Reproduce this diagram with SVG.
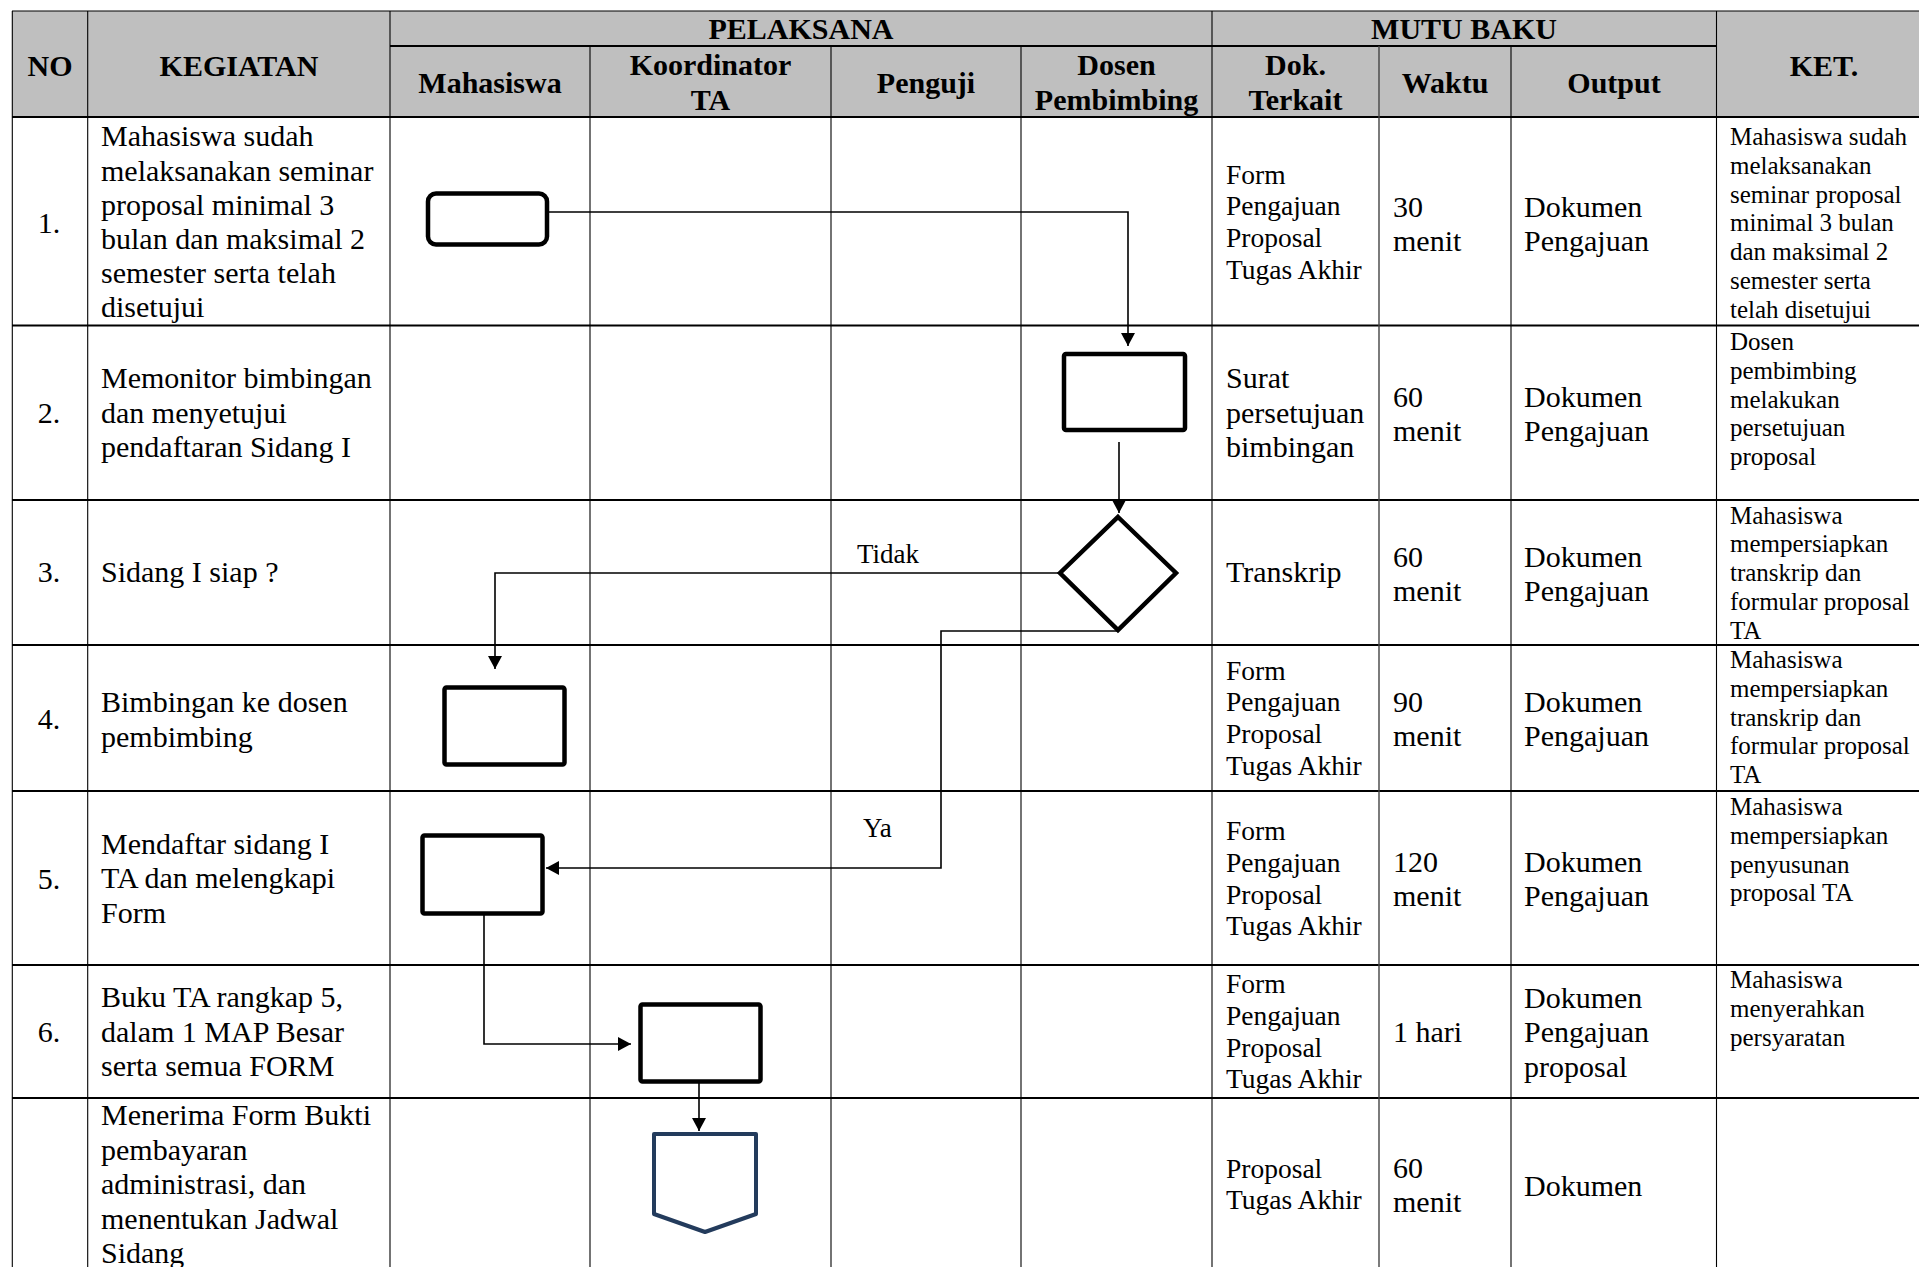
<svg xmlns="http://www.w3.org/2000/svg" width="1919" height="1267" viewBox="0 0 1919 1267">
<defs>
<style>
text{font-family:"Liberation Serif","Times New Roman",serif;fill:#000}
.h{font-weight:bold;font-size:30px;text-anchor:middle}
.n{font-size:30px;text-anchor:middle}
.b{font-size:30px}
.d{font-size:27.5px}
.k{font-size:25px}
.l{font-size:27px}
.row{stroke:#000;stroke-width:2.2}
.col{stroke:#000;stroke-width:1.1}
.node{fill:#fff;stroke:#000;stroke-width:4.5}
.conn{fill:none;stroke:#000;stroke-width:1.6}
</style>
<marker id="arr" markerUnits="userSpaceOnUse" markerWidth="14" markerHeight="14" refX="13" refY="7" orient="auto">
<path d="M0,0 L13,7 L0,14 z" fill="#000"/>
</marker>
</defs>
<rect x="0" y="0" width="1919" height="1267" fill="#fff"/>
<g id="table">
<rect x="12" y="11" width="1920" height="106" fill="#bfbfbf"/>
<line class="col" x1="12" y1="11" x2="1932" y2="11"/>
<line class="row" x1="390" y1="46" x2="1717" y2="46" style="stroke-width:1.8"/>
<line class="row" x1="12" y1="117" x2="1932" y2="117"/>
<line class="row" x1="12" y1="325.5" x2="1932" y2="325.5"/>
<line class="row" x1="12" y1="500" x2="1932" y2="500"/>
<line class="row" x1="12" y1="645" x2="1932" y2="645"/>
<line class="row" x1="12" y1="791" x2="1932" y2="791"/>
<line class="row" x1="12" y1="965" x2="1932" y2="965"/>
<line class="row" x1="12" y1="1098" x2="1932" y2="1098"/>
<line class="col" x1="12.3" y1="11" x2="12.3" y2="1267"/>
<line class="col" x1="87.7" y1="11" x2="87.7" y2="1267"/>
<line class="col" x1="390" y1="11" x2="390" y2="1267"/>
<line class="col" x1="590" y1="46" x2="590" y2="1267"/>
<line class="col" x1="831" y1="46" x2="831" y2="1267"/>
<line class="col" x1="1021" y1="46" x2="1021" y2="1267"/>
<line class="col" x1="1212" y1="11" x2="1212" y2="1267"/>
<line class="col" x1="1379" y1="46" x2="1379" y2="1267" style="stroke:#444;stroke-width:1.4"/>
<line class="col" x1="1511" y1="46" x2="1511" y2="1267"/>
<line class="col" x1="1716.5" y1="11" x2="1716.5" y2="1267"/>
</g>
<g id="header">
<text class="h" x="801" y="39">PELAKSANA</text>
<text class="h" x="1464" y="39">MUTU BAKU</text>
<text class="h" x="50" y="76">NO</text>
<text class="h" x="239" y="76">KEGIATAN</text>
<text class="h" x="1824" y="76">KET.</text>
<text class="h" x="490" y="93">Mahasiswa</text>
<text class="h" x="710.5" y="75">Koordinator</text>
<text class="h" x="710.5" y="110">TA</text>
<text class="h" x="926" y="93">Penguji</text>
<text class="h" x="1116.5" y="75">Dosen</text>
<text class="h" x="1116.5" y="110">Pembimbing</text>
<text class="h" x="1295.5" y="75">Dok.</text>
<text class="h" x="1295.5" y="110">Terkait</text>
<text class="h" x="1445" y="93">Waktu</text>
<text class="h" x="1614" y="93">Output</text>
</g>
<g id="row1">
<text class="n" x="49" y="233">1.</text>
<text class="b"><tspan x="101" y="146">Mahasiswa sudah</tspan><tspan x="101" y="180.5">melaksanakan seminar</tspan><tspan x="101" y="214.5">proposal minimal 3</tspan><tspan x="101" y="248.5">bulan dan maksimal 2</tspan><tspan x="101" y="283">semester serta telah</tspan><tspan x="101" y="317">disetujui</tspan></text>
<text class="d"><tspan x="1226" y="183.5">Form</tspan><tspan x="1226" y="215">Pengajuan</tspan><tspan x="1226" y="246.5">Proposal</tspan><tspan x="1226" y="278.5">Tugas Akhir</tspan></text>
<text class="b"><tspan x="1393" y="216.5">30</tspan><tspan x="1393" y="251">menit</tspan></text>
<text class="b"><tspan x="1524" y="216.5">Dokumen</tspan><tspan x="1524" y="251">Pengajuan</tspan></text>
<text class="k"><tspan x="1730" y="145">Mahasiswa sudah</tspan><tspan x="1730" y="173.8">melaksanakan</tspan><tspan x="1730" y="202.6">seminar proposal</tspan><tspan x="1730" y="231.4">minimal 3 bulan</tspan><tspan x="1730" y="260.2">dan maksimal 2</tspan><tspan x="1730" y="289">semester serta</tspan><tspan x="1730" y="317.8">telah disetujui</tspan></text>
</g>
<g id="row2">
<text class="n" x="49" y="423">2.</text>
<text class="b"><tspan x="101" y="388">Memonitor bimbingan</tspan><tspan x="101" y="422.5">dan menyetujui</tspan><tspan x="101" y="457">pendaftaran Sidang I</tspan></text>
<text class="b"><tspan x="1226" y="388">Surat</tspan><tspan x="1226" y="422.5">persetujuan</tspan><tspan x="1226" y="457">bimbingan</tspan></text>
<text class="b"><tspan x="1393" y="406.5">60</tspan><tspan x="1393" y="441">menit</tspan></text>
<text class="b"><tspan x="1524" y="406.5">Dokumen</tspan><tspan x="1524" y="441">Pengajuan</tspan></text>
<text class="k"><tspan x="1730" y="350">Dosen</tspan><tspan x="1730" y="378.8">pembimbing</tspan><tspan x="1730" y="407.6">melakukan</tspan><tspan x="1730" y="436.4">persetujuan</tspan><tspan x="1730" y="465.2">proposal</tspan></text>
</g>
<g id="row3">
<text class="n" x="49" y="582">3.</text>
<text class="b" x="101" y="582">Sidang I siap ?</text>
<text class="b" x="1226" y="582">Transkrip</text>
<text class="b"><tspan x="1393" y="566.5">60</tspan><tspan x="1393" y="601">menit</tspan></text>
<text class="b"><tspan x="1524" y="566.5">Dokumen</tspan><tspan x="1524" y="601">Pengajuan</tspan></text>
<text class="k"><tspan x="1730" y="523.5">Mahasiswa</tspan><tspan x="1730" y="552.3">mempersiapkan</tspan><tspan x="1730" y="581.1">transkrip dan</tspan><tspan x="1730" y="609.9">formular proposal</tspan><tspan x="1730" y="638.7">TA</tspan></text>
</g>
<g id="row4">
<text class="n" x="49" y="729">4.</text>
<text class="b"><tspan x="101" y="712">Bimbingan ke dosen</tspan><tspan x="101" y="746.5">pembimbing</tspan></text>
<text class="d"><tspan x="1226" y="679.5">Form</tspan><tspan x="1226" y="711.3">Pengajuan</tspan><tspan x="1226" y="743.1">Proposal</tspan><tspan x="1226" y="774.9">Tugas Akhir</tspan></text>
<text class="b"><tspan x="1393" y="711.5">90</tspan><tspan x="1393" y="746">menit</tspan></text>
<text class="b"><tspan x="1524" y="711.5">Dokumen</tspan><tspan x="1524" y="746">Pengajuan</tspan></text>
<text class="k"><tspan x="1730" y="668">Mahasiswa</tspan><tspan x="1730" y="696.8">mempersiapkan</tspan><tspan x="1730" y="725.6">transkrip dan</tspan><tspan x="1730" y="754.4">formular proposal</tspan><tspan x="1730" y="783.2">TA</tspan></text>
</g>
<g id="row5">
<text class="n" x="49" y="889">5.</text>
<text class="b"><tspan x="101" y="853.5">Mendaftar sidang I</tspan><tspan x="101" y="888">TA dan melengkapi</tspan><tspan x="101" y="922.5">Form</tspan></text>
<text class="d"><tspan x="1226" y="840">Form</tspan><tspan x="1226" y="871.8">Pengajuan</tspan><tspan x="1226" y="903.6">Proposal</tspan><tspan x="1226" y="935.4">Tugas Akhir</tspan></text>
<text class="b"><tspan x="1393" y="872">120</tspan><tspan x="1393" y="906">menit</tspan></text>
<text class="b"><tspan x="1524" y="872">Dokumen</tspan><tspan x="1524" y="906">Pengajuan</tspan></text>
<text class="k"><tspan x="1730" y="815">Mahasiswa</tspan><tspan x="1730" y="843.8">mempersiapkan</tspan><tspan x="1730" y="872.6">penyusunan</tspan><tspan x="1730" y="901.4">proposal TA</tspan></text>
</g>
<g id="row6">
<text class="n" x="49" y="1042">6.</text>
<text class="b"><tspan x="101" y="1007">Buku TA rangkap 5,</tspan><tspan x="101" y="1041.5">dalam 1 MAP Besar</tspan><tspan x="101" y="1076">serta semua FORM</tspan></text>
<text class="d"><tspan x="1226" y="993">Form</tspan><tspan x="1226" y="1024.8">Pengajuan</tspan><tspan x="1226" y="1056.6">Proposal</tspan><tspan x="1226" y="1088.4">Tugas Akhir</tspan></text>
<text class="b" x="1393" y="1042">1 hari</text>
<text class="b"><tspan x="1524" y="1007.5">Dokumen</tspan><tspan x="1524" y="1042">Pengajuan</tspan><tspan x="1524" y="1076.5">proposal</tspan></text>
<text class="k"><tspan x="1730" y="988">Mahasiswa</tspan><tspan x="1730" y="1016.8">menyerahkan</tspan><tspan x="1730" y="1045.6">persyaratan</tspan></text>
</g>
<g id="row7">
<text class="b"><tspan x="101" y="1125">Menerima Form Bukti</tspan><tspan x="101" y="1159.5">pembayaran</tspan><tspan x="101" y="1194">administrasi, dan</tspan><tspan x="101" y="1228.5">menentukan Jadwal</tspan><tspan x="101" y="1263">Sidang</tspan></text>
<text class="d"><tspan x="1226" y="1177.5">Proposal</tspan><tspan x="1226" y="1209.3">Tugas Akhir</tspan></text>
<text class="b"><tspan x="1393" y="1177.5">60</tspan><tspan x="1393" y="1212">menit</tspan></text>
<text class="b" x="1524" y="1195.5">Dokumen</text>
</g>
<g id="connectors">
<path class="conn" d="M549,212 H1128 V346" marker-end="url(#arr)"/>
<path class="conn" d="M1119,442 V513" marker-end="url(#arr)"/>
<path class="conn" d="M1060,573 H495 V669" marker-end="url(#arr)"/>
<path class="conn" d="M1118,631 H941 V868 H546" marker-end="url(#arr)"/>
<path class="conn" d="M484,915 V1044 H631" marker-end="url(#arr)"/>
<path class="conn" d="M699,1083 V1131" marker-end="url(#arr)"/>
<text class="l" x="857" y="563">Tidak</text>
<text class="l" x="863" y="837">Ya</text>
</g>
<g id="n1-start"><rect class="node" x="428" y="193.5" width="119" height="51" rx="8"/></g>
<g id="n2-monitor"><rect class="node" x="1064" y="354" width="121" height="76" rx="2"/></g>
<g id="n3-decision"><polygon class="node" points="1118,517 1176,573 1118,630 1060,573"/></g>
<g id="n4-bimbingan"><rect class="node" x="444.5" y="687.5" width="120" height="77" rx="2"/></g>
<g id="n5-daftar"><rect class="node" x="422.5" y="835.5" width="120" height="78" rx="2"/></g>
<g id="n6-buku"><rect class="node" x="640.5" y="1004.5" width="120" height="77" rx="2"/></g>
<g id="n7-offpage"><polygon points="654,1134 756,1134 756,1214 705,1232 654,1214" fill="#fff" stroke="#233b5c" stroke-width="4" stroke-linejoin="round"/></g>
</svg>
